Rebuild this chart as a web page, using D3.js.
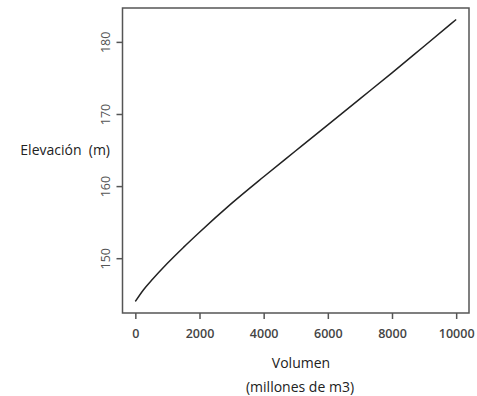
<!DOCTYPE html>
<html>
<head>
<meta charset="utf-8">
<script src="https://cdn.jsdelivr.net/npm/d3@7"></script>
<style>
  body { margin: 0; background: #fff; }
  text { font-family: "Open Sans", sans-serif; }
</style>
</head>
<body>
<div id="chart"></div>
<script>
var volumen = [0, 250, 500, 1000, 1500, 2000, 3000, 4000, 5000, 6000, 7000, 8000, 9000, 10000];
var elevacion = [144.0, 145.6, 146.9, 149.3, 151.5, 153.6, 157.6, 161.3, 164.9, 168.5, 172.1, 175.7, 179.4, 183.1];
var xTicks = [0, 2000, 4000, 6000, 8000, 10000];
var yTicks = [150, 160, 170, 180];

var width = 477;
var height = 396;

var data = volumen.map(function(v, i) { return { v: v, e: elevacion[i] }; });

var svg = d3.select("#chart")
  .append("svg")
  .attr("width", width)
  .attr("height", height);

var x = d3.scaleLinear().domain([-400, 10400]).range([122.5, 469]);
var y = d3.scaleLinear().domain([142.4, 184.7]).range([313, 8]);

// frame
svg.append("rect")
  .attr("x", x.range()[0])
  .attr("y", y.range()[1])
  .attr("width", x.range()[1] - x.range()[0])
  .attr("height", y.range()[0] - y.range()[1])
  .style("fill", "none")
  .style("stroke", "#555")
  .style("stroke-width", 1.5);

// x axis
var xAxis = svg.append("g")
  .attr("transform", "translate(0," + y.range()[0] + ")")
  .call(d3.axisBottom(x).tickValues(xTicks).tickSize(6).tickPadding(10).tickFormat(d3.format("d")));
xAxis.select(".domain").remove();
xAxis.selectAll("line").style("stroke", "#555").style("stroke-width", 1.5);
xAxis.selectAll("text")
  .style("font-family", "'Open Sans', sans-serif")
  .style("font-size", "12.5px")
  .style("font-weight", "600")
  .style("fill", "#444");

// y axis
var yAxis = svg.append("g")
  .attr("transform", "translate(" + x.range()[0] + ",0)")
  .call(d3.axisLeft(y).tickValues(yTicks).tickSize(6).tickPadding(0));
yAxis.select(".domain").remove();
yAxis.selectAll("line").style("stroke", "#555").style("stroke-width", 1.5);
yAxis.selectAll("text")
  .attr("x", null).attr("dy", null)
  .attr("text-anchor", "middle")
  .attr("transform", "translate(-17,0) rotate(-90)")
  .attr("dy", "0.35em")
  .style("font-family", "'Open Sans', sans-serif")
  .style("font-size", "12.5px")
  .style("fill", "#555");

// curve
var line = d3.line()
  .x(function(d) { return x(d.v); })
  .y(function(d) { return y(d.e); })
  .curve(d3.curveMonotoneX);

svg.append("path")
  .datum(data)
  .attr("d", line)
  .style("fill", "none")
  .style("stroke", "#222")
  .style("stroke-width", 1.5);

// labels
svg.append("text")
  .attr("x", 110)
  .attr("y", 155)
  .attr("text-anchor", "end")
  .style("white-space", "pre")
  .style("font-size", "14px")
  .style("font-weight", "500")
  .style("fill", "#222")
  .text("Elevación  (m)");

svg.append("text")
  .attr("x", 301)
  .attr("y", 368)
  .attr("text-anchor", "middle")
  .style("font-size", "14px")
  .style("font-weight", "500")
  .style("fill", "#222")
  .text("Volumen");

svg.append("text")
  .attr("x", 300)
  .attr("y", 392)
  .attr("text-anchor", "middle")
  .style("font-size", "14px")
  .style("font-weight", "500")
  .style("fill", "#222")
  .text("(millones de m3)");
</script>
</body>
</html>
